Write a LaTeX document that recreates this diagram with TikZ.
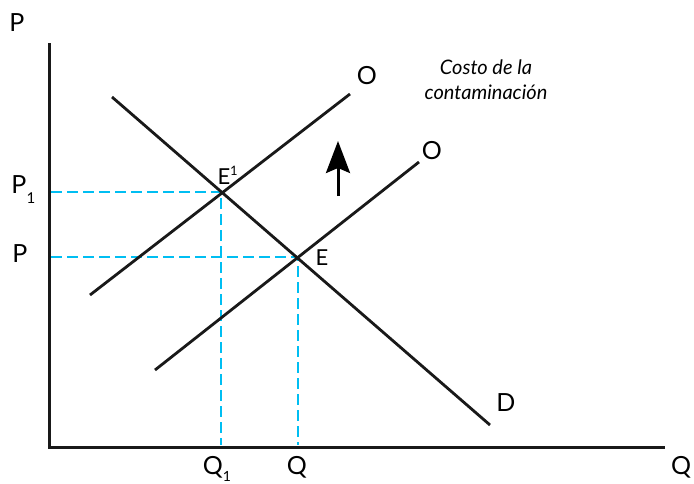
\documentclass[tikz,border=0pt]{standalone}
\usepackage{fontspec}
\setmainfont{Lato}
\usetikzlibrary{arrows.meta}
\definecolor{dcyan}{RGB}{0,190,242}
\begin{document}
\begin{tikzpicture}[x=1pt,y=-1pt,
  curve/.style={line width=2.8pt, black!90},
  axis/.style={line width=3pt, black!90},
  guide/.style={line width=2.8pt, dcyan, dash pattern=on 11pt off 5pt},
  lbl/.style={inner sep=0pt, font=\fontsize{25}{28}\selectfont},
  plbl/.style={inner sep=0pt, font=\fontsize{22}{26}\selectfont},
  note/.style={inner sep=0pt, align=center, font=\fontsize{20}{25}\selectfont\itshape}]
\useasboundingbox (0,0) rectangle (694,483);
% axes
\coordinate (top) at (49,43);
\coordinate (orig) at (49,447);
\coordinate (right) at (665,447);
\draw[axis] (top) -- (orig) -- (right);
% intersections
\coordinate (E1) at (221,192);
\coordinate (E) at (298,257);
% curves
\coordinate (D0) at (112,97);
\coordinate (D1) at (490,425);
\coordinate (S1a) at (90,295);
\coordinate (S1b) at (350,94);
\coordinate (S2a) at (155,370);
\coordinate (S2b) at (419,162);
% guides
\coordinate (yP1) at (51,192);
\coordinate (yP) at (51,257);
\coordinate (xQ1) at (221,445);
\coordinate (xQ) at (298,445);
\draw[guide] (yP1) -- (E1) -- (xQ1);
\draw[guide] (yP) -- (E) -- (xQ);
\draw[curve] (D0) -- (D1);
\draw[curve] (S1a) -- (S1b);
\draw[curve] (S2a) -- (S2b);
% arrow
\coordinate (ab) at (338,196);
\coordinate (at) at (338,141);
\draw[line width=3pt, -{Stealth[length=32pt,width=24pt,inset=5pt]}] (ab) -- (at);
% labels
\node[lbl] (lP) at (17,23) {P};
\node[lbl] (lP1) at (19,185) {P};
\node[inner sep=0pt, font=\fontsize{15}{16}\selectfont] (lP1s) at (31,198) {1};
\node[lbl] (lP0) at (20,254) {P};
\node[lbl] (lQ1) at (213,467) {Q};
\node[inner sep=0pt, font=\fontsize{14}{15}\selectfont] (lQ1s) at (227,476) {1};
\node[lbl] (lQ) at (297,467) {Q};
\node[lbl] (lQr) at (681,467) {Q};
\node[lbl] (lD) at (506,403) {D};
\node[lbl] (lO1) at (367,76) {O};
\node[lbl] (lO2) at (432,151) {O};
\node[plbl] (lE) at (322,258) {E};
\node[plbl] (lE1) at (224,177) {E};
\node[inner sep=0pt, font=\fontsize{13}{14}\selectfont] (lE1s) at (234,171) {1};
\node[note] (lcost) at (486,80) {Costo de la\\contaminación};
\end{tikzpicture}
\end{document}
